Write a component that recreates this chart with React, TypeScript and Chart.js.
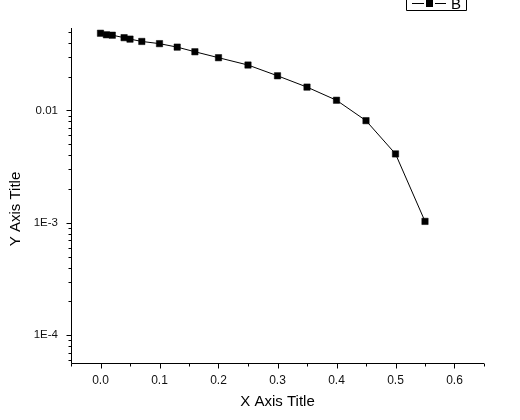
import React, { useEffect, useRef } from "react";
import { Chart, registerables } from "chart.js";

Chart.register(...registerables);

const xValues = [0, 0.01, 0.02, 0.04, 0.05, 0.07, 0.1, 0.13, 0.16, 0.2, 0.25, 0.3, 0.35, 0.4, 0.45, 0.5, 0.55];
const yValues = [0.0485, 0.047, 0.0466, 0.0443, 0.043, 0.041, 0.0392, 0.0365, 0.0332, 0.0294, 0.0253, 0.0203, 0.0161, 0.0123, 0.0081, 0.0041, 0.00103];
const seriesName = "B";
const xTickValues = [0, 0.1, 0.2, 0.3, 0.4, 0.5, 0.6];
const xMinorTickValues = [-0.05, 0.05, 0.15, 0.25, 0.35, 0.45, 0.55, 0.65];
const yTickValues = [1e-4, 1e-3, 1e-2];
const yTickLabels = ["1E-4", "1E-3", "0.01"];
const xTitle = "X Axis Title";
const yTitle = "Y Axis Title";

const FONT = "'Liberation Sans', Arial, sans-serif";

const decorPlugin = {
  id: "decor",
  afterDraw(chart: any) {
    const ctx = chart.ctx;
    const xs = chart.scales.x;
    const ys = chart.scales.y;
    const area = chart.chartArea;
    ctx.save();
    ctx.strokeStyle = "#000";
    ctx.lineWidth = 1;
    // axis lines
    ctx.beginPath();
    ctx.moveTo(Math.round(area.left) + 0.5, area.top);
    ctx.lineTo(Math.round(area.left) + 0.5, Math.round(area.bottom) + 0.5);
    ctx.lineTo(area.right, Math.round(area.bottom) + 0.5);
    ctx.stroke();
    // x ticks
    const by = Math.round(area.bottom) + 0.5;
    ctx.beginPath();
    xTickValues.forEach((v) => {
      const px = Math.round(xs.getPixelForValue(v)) + 0.5;
      ctx.moveTo(px, by);
      ctx.lineTo(px, by + 5);
    });
    xMinorTickValues.forEach((v) => {
      const px = Math.round(xs.getPixelForValue(v)) + 0.5;
      ctx.moveTo(px, by);
      ctx.lineTo(px, by + 3);
    });
    // y ticks
    const lx = Math.round(area.left) + 0.5;
    const ymin = ys.min;
    const ymax = ys.max;
    for (let e = -6; e <= 0; e++) {
      for (let k = 1; k <= 9; k++) {
        const v = k * Math.pow(10, e);
        if (v < ymin || v > ymax) continue;
        const py = Math.round(ys.getPixelForValue(v)) + 0.5;
        const len = k === 1 ? 5 : 3;
        ctx.moveTo(lx, py);
        ctx.lineTo(lx - len, py);
      }
    }
    ctx.stroke();
    // titles
    ctx.fillStyle = "#000";
    ctx.font = `15px ${FONT}`;
    ctx.textAlign = "center";
    ctx.textBaseline = "middle";
    ctx.fillText(xTitle, (area.left + area.right) / 2, 402);
    ctx.save();
    ctx.translate(16, 209);
    ctx.rotate(-Math.PI / 2);
    ctx.fillText(yTitle, 0, 0);
    ctx.restore();
    // legend (partially cut off at top)
    ctx.beginPath();
    ctx.rect(406.5, -12.5, 60, 23);
    ctx.stroke();
    ctx.beginPath();
    ctx.moveTo(412, 3.5);
    ctx.lineTo(424, 3.5);
    ctx.moveTo(435, 3.5);
    ctx.lineTo(446, 3.5);
    ctx.stroke();
    ctx.fillRect(426, 0, 7, 7);
    ctx.font = `15px ${FONT}`;
    ctx.textAlign = "center";
    ctx.textBaseline = "alphabetic";
    ctx.fillText(seriesName, 456, 9);
    ctx.restore();
  },
};

export default function App() {
  const ref = useRef<HTMLCanvasElement>(null);
  useEffect(() => {
    if (!ref.current) return;
    const chart = new Chart(ref.current, {
      type: "line",
      data: {
        datasets: [
          {
            label: seriesName,
            data: xValues.map((x, i) => ({ x, y: yValues[i] })),
            borderColor: "#000",
            backgroundColor: "#000",
            borderWidth: 1,
            pointStyle: "rect",
            pointRadius: 4.5,
            pointBorderWidth: 0.5,
            pointBackgroundColor: "#000",
            pointBorderColor: "#000",
            tension: 0,
          },
        ],
      },
      options: {
        responsive: false,
        animation: false,
        devicePixelRatio: 1,
        layout: { padding: { top: 28, right: 36, left: 0, bottom: 0 } },
        plugins: { legend: { display: false }, tooltip: { enabled: false } },
        scales: {
          x: {
            type: "linear",
            min: -0.05,
            max: 0.65,
            grid: { display: false, drawTicks: false },
            border: { display: false },
            afterBuildTicks: (s: any) => {
              s.ticks = xTickValues.map((v) => ({ value: v }));
            },
            afterFit: (s: any) => {
              s.height = 57;
            },
            ticks: {
              color: "#111",
              font: { family: FONT, size: 12 },
              padding: 10,
              maxRotation: 0,
              autoSkip: false,
              callback: (v: any) => Number(v).toFixed(1),
            },
          },
          y: {
            type: "logarithmic",
            min: 5.67e-5,
            max: 0.054,
            grid: { display: false, drawTicks: false },
            border: { display: false },
            afterBuildTicks: (s: any) => {
              s.ticks = yTickValues.map((v) => ({ value: v }));
            },
            afterFit: (s: any) => {
              s.width = 71;
            },
            ticks: {
              color: "#111",
              font: { family: FONT, size: 11.5 },
              padding: 13,
              autoSkip: false,
              callback: (v: any) => {
                const i = yTickValues.findIndex((t) => Math.abs(t - Number(v)) / t < 1e-6);
                return i >= 0 ? yTickLabels[i] : "";
              },
            },
          },
        },
      },
      plugins: [decorPlugin],
    });
    return () => chart.destroy();
  }, []);
  return (
    <canvas
      ref={ref}
      width={520}
      height={420}
      style={{ position: "absolute", left: 0, top: 0, width: 520, height: 420, background: "#fff" }}
    />
  );
}
